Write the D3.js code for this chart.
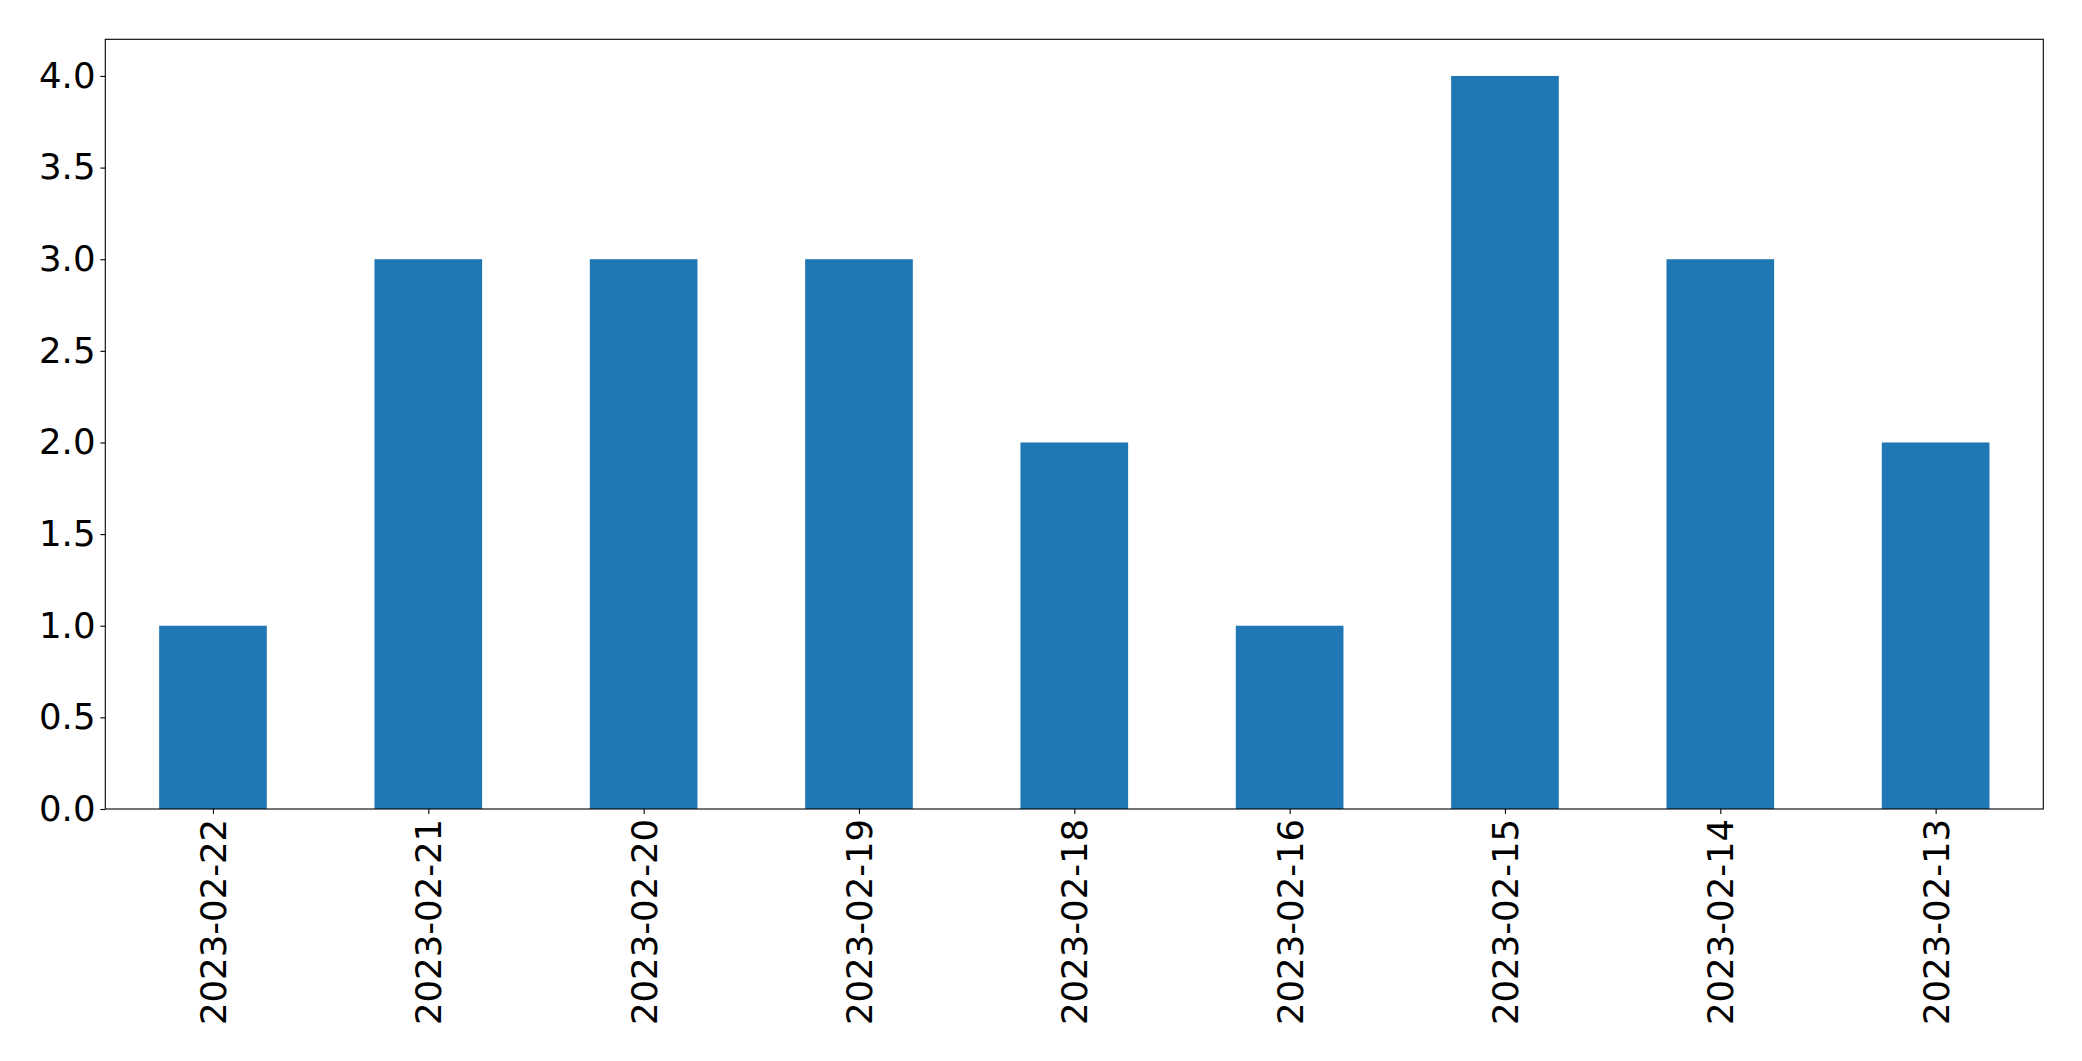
<!DOCTYPE html>
<html><head><meta charset="utf-8">
<script src="https://cdn.jsdelivr.net/npm/d3@7"></script>
<style>body{margin:0;background:#fff;} svg{display:block;}</style>
</head><body>
<script>
const categories = ["2023-02-22","2023-02-21","2023-02-20","2023-02-19","2023-02-18","2023-02-16","2023-02-15","2023-02-14","2023-02-13"];
const values = [1,3,3,3,2,1,4,3,2];
const yTicks = [0,0.5,1,1.5,2,2.5,3,3.5,4];

const W = 2082, H = 1061;
const m = {left:105.3, top:39.3, right:2082-2043.3, bottom:1061-809};
const svg = d3.select("body").append("svg").attr("width",W).attr("height",H);
const pw = W - m.left - m.right, ph = H - m.top - m.bottom;
const g = svg.append("g").attr("transform",`translate(${m.left},${m.top})`);

const x = d3.scaleLinear().domain([-0.5, categories.length-0.5]).range([0,pw]);
const y = d3.scaleLinear().domain([0,4.2]).range([ph,0]);

g.selectAll("rect.bar").data(values).join("rect").attr("class","bar")
  .attr("x",(d,i)=>x(i-0.25)).attr("width",(d,i)=>x(i+0.25)-x(i-0.25))
  .attr("y",d=>y(d)).attr("height",d=>y(0)-y(d)).attr("fill","#1f77b4");

const font = "'DejaVu Sans', sans-serif";
const fs = 35.5;
const yAxis = g.append("g").call(d3.axisLeft(y).tickValues(yTicks).tickFormat(d3.format(".1f")).tickSize(4.9).tickPadding(4.9));
yAxis.select(".domain").remove();
yAxis.selectAll("text").attr("font-family",font).attr("font-size",fs).attr("fill","#000");
yAxis.selectAll("line").attr("stroke","#000").attr("stroke-width",1.1);

const xAxis = g.append("g").attr("transform",`translate(0,${ph})`)
  .call(d3.axisBottom(x).tickValues(d3.range(categories.length)).tickFormat(i=>categories[i]).tickSize(4.9).tickPadding(4.9));
xAxis.select(".domain").remove();
xAxis.selectAll("line").attr("stroke","#000").attr("stroke-width",1.1);
xAxis.selectAll("text").attr("font-family",font).attr("font-size",fs).attr("fill","#000")
  .attr("transform","rotate(-90)").attr("text-anchor","end").attr("dy","0.35em")
  .attr("x",-9.8).attr("y",0);

g.append("rect").attr("x",0).attr("y",0).attr("width",pw).attr("height",ph)
  .attr("fill","none").attr("stroke","#000").attr("stroke-width",1.1);
</script>
</body></html>
